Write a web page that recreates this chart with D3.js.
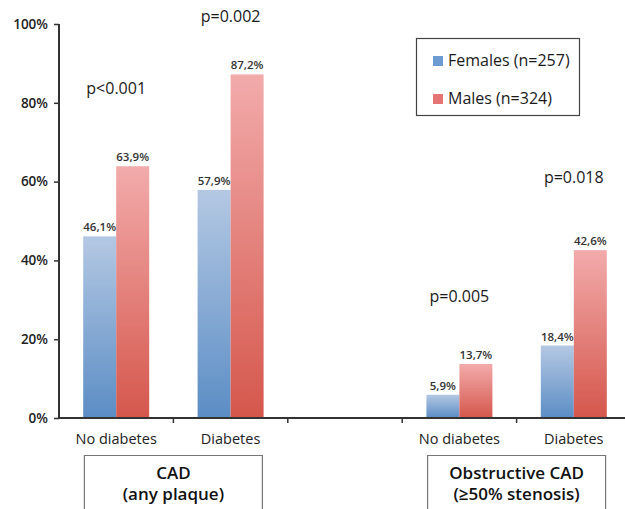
<!DOCTYPE html>
<html>
<head>
<meta charset="utf-8">
<script src="https://cdn.jsdelivr.net/npm/d3@7"></script>
<style>
html,body{margin:0;padding:0;background:#fff;}
svg{display:block;font-family:"Open Sans",sans-serif;}
</style>
</head>
<body>
<svg id="chart" width="625" height="509"></svg>
<script>
const slots = ["s0","s1","s2","s3","s4"];
const categories = ["No diabetes","Diabetes","","No diabetes","Diabetes"];
const seriesNames = ["Females (n=257)","Males (n=324)"];
const females = [46.1, 57.9, null, 5.9, 18.4];
const males = [63.9, 87.2, null, 13.7, 42.6];
const pLabels = ["p<0.001","p=0.002","","p=0.005","p=0.018"];
const pLevels = [82.2, 100.5, null, 29.4, 59.6];
const yTicks = [0,20,40,60,80,100];
const groupTitles = [["CAD","(any plaque)"],["Obstructive CAD","(≥50% stenosis)"]];
const groupSpans = [[0,1],[3,4]];

const svg = d3.select("#chart");
const x = d3.scaleBand().domain(slots).range([59, 631]).padding(0);
const y = d3.scaleLinear().domain([0,100]).range([418, 24]);
const barW = 33;
const inner = d3.scaleBand().domain([0,1]).range([-barW, barW]).padding(0);

const defs = svg.append("defs");
const grads = [["gF","#b4c8e3","#5b8dc5"],["gM","#f2abab","#d5574c"]];
grads.forEach(([id,top,bot])=>{
  const g = defs.append("linearGradient").attr("id",id).attr("x1",0).attr("y1",0).attr("x2",0).attr("y2",1);
  g.append("stop").attr("offset","0%").attr("stop-color",top);
  g.append("stop").attr("offset","100%").attr("stop-color",bot);
});
const fills = ["url(#gF)","url(#gM)"];
const legendColors = ["#6b9bd0","#e57575"];

const data = [];
slots.forEach((s,i)=>{
  [females[i], males[i]].forEach((v,k)=>{ if(v!=null) data.push({slot:s, k, v}); });
});

// bars
svg.append("g").selectAll("rect").data(data).join("rect")
  .attr("x", d=> x(d.slot)+x.bandwidth()/2 + inner(d.k))
  .attr("y", d=> y(d.v))
  .attr("width", inner.bandwidth())
  .attr("height", d=> y(0)-y(d.v))
  .attr("fill", d=> fills[d.k]);

// value labels
svg.append("g").selectAll("text").data(data).join("text")
  .attr("x", d=> x(d.slot)+x.bandwidth()/2 + inner(d.k) + inner.bandwidth()/2)
  .attr("y", d=> y(d.v)-5)
  .attr("text-anchor","middle")
  .attr("font-size","11.5px")
  .attr("font-weight",600)
  .attr("fill","#333")
  .text(d=> d.v.toFixed(1).replace(".",",")+"%");

// y axis
const yAxis = d3.axisLeft(y).tickValues(yTicks).tickFormat(d=>d+"%").tickSize(5).tickPadding(6);
const gy = svg.append("g").attr("transform","translate(59,0)").call(yAxis);
gy.select(".domain").attr("stroke","#333").attr("stroke-width",2).attr("d","M0,24V418");
gy.selectAll(".tick line").attr("stroke","#333").attr("stroke-width",1.5);
gy.selectAll(".tick text").attr("font-size","13.5px").attr("font-weight",600).attr("fill","#222").attr("font-family","Open Sans, sans-serif");

// x axis
const gx = svg.append("g").attr("transform","translate(0,418)");
gx.append("line").attr("x1",58).attr("x2",631).attr("stroke","#333").attr("stroke-width",2);
gx.selectAll("line.tk").data(slots.slice(1)).join("line").attr("class","tk")
  .attr("x1",d=>x(d)).attr("x2",d=>x(d)).attr("y1",0).attr("y2",5)
  .attr("stroke","#333").attr("stroke-width",1.5);
gx.selectAll("text").data(slots).join("text")
  .attr("x",d=>x(d)+x.bandwidth()/2).attr("y",26)
  .attr("text-anchor","middle").attr("font-size","14.5px").attr("fill","#222")
  .text((d,i)=>categories[i]);

// p labels
svg.append("g").selectAll("text").data(slots.filter((s,i)=>pLevels[i]!=null)).join("text")
  .attr("x",d=>x(d)+x.bandwidth()/2)
  .attr("y",d=>y(pLevels[slots.indexOf(d)]))
  .attr("text-anchor","middle").attr("font-size","16px").attr("font-weight",500).attr("fill","#1a1a1a")
  .text(d=>pLabels[slots.indexOf(d)]);

// legend
const lg = svg.append("g");
lg.append("rect").attr("x",416.5).attr("y",38.5).attr("width",163).attr("height",77)
  .attr("fill","#fff").attr("stroke","#444").attr("stroke-width",1.2);
seriesNames.forEach((n,i)=>{
  lg.append("rect").attr("x",433).attr("y",56+i*38).attr("width",10).attr("height",10).attr("fill",legendColors[i]);
  lg.append("text").attr("x",448).attr("y",66+i*38).attr("font-size","16px").attr("font-weight",500).attr("fill","#1a1a1a").text(n);
});

// group boxes
groupSpans.forEach((sp,i)=>{
  const cx = x(slots[sp[1]]);
  const w = 178;
  const g = svg.append("g");
  g.append("path").attr("d",`M${cx-w/2},512V455.5H${cx+w/2}V512`).attr("fill","none").attr("stroke","#777").attr("stroke-width",1.2);
  g.append("text").attr("x",cx).attr("y",479).attr("text-anchor","middle").attr("font-size","17px").attr("font-weight",600).attr("fill","#111").text(groupTitles[i][0]);
  g.append("text").attr("x",cx).attr("y",500).attr("text-anchor","middle").attr("font-size","17px").attr("font-weight",600).attr("fill","#111").text(groupTitles[i][1]);
});
</script>
</body>
</html>
